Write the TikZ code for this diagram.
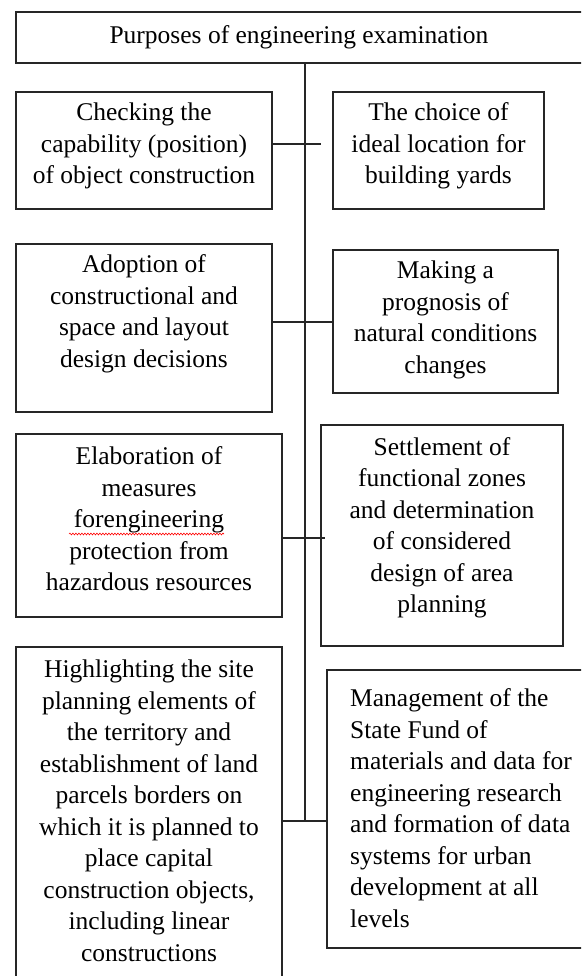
\documentclass[tikz,border=0pt]{standalone}
\usepackage{fontspec}
\setmainfont{Liberation Serif}
\usetikzlibrary{decorations.pathmorphing}
\begin{document}
\begin{tikzpicture}[x=1pt,y=-1pt,
  box/.style={draw=black!85, line width=1.3pt, inner sep=0pt, outer sep=0pt},
  txt/.style={inner sep=0pt, align=center, font=\fontsize{25.5pt}{31.5pt}\selectfont},
  txtl/.style={inner sep=0pt, align=left, anchor=west, font=\fontsize{25.5pt}{31.5pt}\selectfont},
  conn/.style={draw=black!85, line width=1.3pt}]
\useasboundingbox (0,0) rectangle (581,976);
\clip (0,0) rectangle (581,976);
\fill[white] (0,0) rectangle (581,976);
% boxes
\node[box, minimum width=574pt, minimum height=51pt] (top) at (303,37.5) {};
\node[box, minimum width=256pt, minimum height=117pt] (b1) at (144,150.5) {};
\node[box, minimum width=211pt, minimum height=117pt] (b2) at (438.5,150.5) {};
\node[box, minimum width=256pt, minimum height=168pt] (b3) at (144,328) {};
\node[box, minimum width=225pt, minimum height=143pt] (b4) at (445.5,321.5) {};
\node[box, minimum width=266pt, minimum height=183pt] (b5) at (149,525.5) {};
\node[box, minimum width=242pt, minimum height=221pt] (b6) at (442,535.5) {};
\node[box, minimum width=266pt, minimum height=353pt] (b7) at (149,823.5) {};
\node[box, minimum width=273pt, minimum height=278pt] (b8) at (463.5,809) {};
% texts
\node[txt] (t0) at (299,37) {Purposes of engineering examination};
\node[txt] (t1) at (144,146) {Checking the\\capability (position)\\of object construction};
\node[txt] (t2) at (438.5,146) {The choice of\\ideal location for\\building yards};
\node[txt] (t3) at (144,314) {Adoption of\\constructional and\\space and layout\\design decisions};
\node[txt] (t4) at (445.5,320) {Making a\\prognosis of\\natural conditions\\changes};
\node[txt] (t5) at (149,519) {Elaboration of\\measures\\forengineering\\protection from\\hazardous resources};
\node[txt] (t6) at (442,528) {Settlement of\\functional zones\\and determination\\of considered\\design of area\\planning};
\node[txt] (t7) at (149,811) {Highlighting the site\\planning elements of\\the territory and\\establishment of land\\parcels borders on\\which it is planned to\\place capital\\construction objects,\\including linear\\constructions};
\node[txtl] (t8) at (350,808) {Management of the\\State Fund of\\materials and data for\\engineering research\\and formation of data\\systems for urban\\development at all\\levels};
% spell-check squiggle
\draw[red, line width=0.6pt, decoration={snake, amplitude=0.9pt, segment length=3pt}, decorate] (69,534) -- (224,534);
% connectors
\coordinate (sp) at (305,821);
\draw[conn] (top.south -| sp) -- (sp);
\coordinate (c1) at (321,144);
\draw[conn] (b1.east |- c1) -- (c1);
\coordinate (c2) at (305,322);
\draw[conn] (b3.east |- c2) -- (b4.west |- c2);
\coordinate (c3) at (325,538);
\draw[conn] (b5.east |- c3) -- (c3);
\draw[conn] (b7.east |- sp) -- (b8.west |- sp);
\end{tikzpicture}
\end{document}
